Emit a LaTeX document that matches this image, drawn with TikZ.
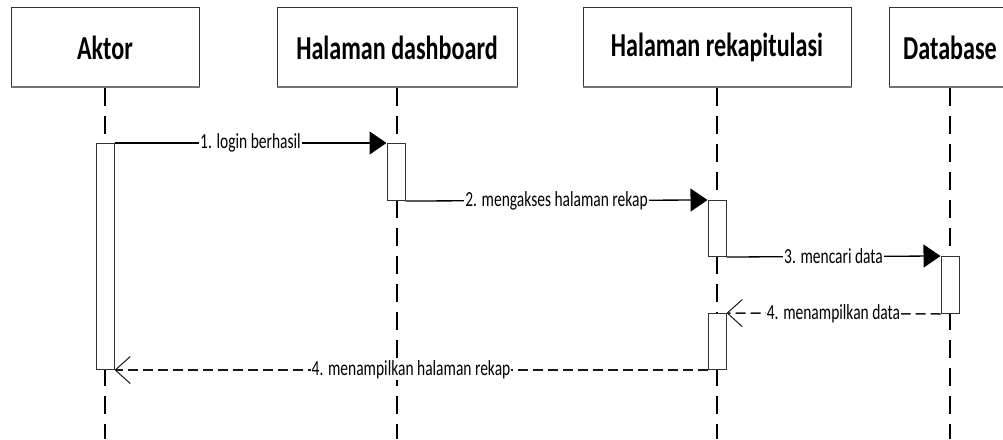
\documentclass[tikz,border=0pt]{standalone}
\usepackage{fontspec}
\setmainfont{Carlito}[FakeStretch=0.72]
\usetikzlibrary{arrows.meta}
\begin{document}
\begin{tikzpicture}[x=1pt,y=-1pt,
  hdrbox/.style={draw=black!80,line width=1pt,fill=white,minimum width=#1,minimum height=80pt,inner sep=0pt,anchor=north,
    font=\fontsize{33.5}{35}\selectfont\bfseries},
  lifeline/.style={draw=black,line width=1.2pt,dash pattern=on 18pt off 10pt},
  actbox/.style={draw=black!80,line width=1pt,fill=white},
  callmsg/.style={draw=black,line width=1.3pt,-{Triangle[length=17pt,width=23pt]}},
  retmsg/.style={draw=black!90,line width=1.5pt,dash pattern=on 10pt off 5pt,-{Straight Barb[length=15pt,width=27pt,line width=1pt]}},
  lbl/.style={fill=white,inner sep=1pt,font=\fontsize{21.5}{23}\selectfont}]
\useasboundingbox (0,0) rectangle (1003,439);
\fill[white] (0,0) rectangle (1003,439);
\begin{scope}
\clip (0,0) rectangle (1003,439);
% header boxes
\node[hdrbox=188pt] (aktor) at (105,7) {Aktor};
\node[hdrbox=240pt] (dash) at (397,7) {Halaman dashboard};
\node[hdrbox=268pt] (rekap) at (717,7) {Halaman rekapitulasi};
\node[hdrbox=122pt] (db) at (950,7) {Database};
% bottom shadow edges
\foreach \n in {aktor,dash,rekap,db}{
  \draw[black!55,line width=2pt] ([yshift=1pt]\n.south west) -- ([yshift=1pt]\n.south east);
}
% lifeline ends
\coordinate (aktorEnd) at (105,439);
\coordinate (dashEnd) at (397,439);
\coordinate (rekapEnd) at (717,439);
\coordinate (dbEnd) at (950,439);
\draw[lifeline] (aktor.south) -- (aktorEnd);
\draw[lifeline] (dash.south) -- (dashEnd);
\draw[lifeline] (rekap.south) -- (rekapEnd);
\draw[lifeline] (db.south) -- (dbEnd);
% activation boxes
\node[actbox,minimum width=18pt,minimum height=226pt,inner sep=0pt,anchor=north] (a1) at (105,143) {};
\node[actbox,minimum width=18pt,minimum height=57pt,inner sep=0pt,anchor=north] (d1) at (396,143) {};
\node[actbox,minimum width=18pt,minimum height=56pt,inner sep=0pt,anchor=north] (r1) at (717,200) {};
\node[actbox,minimum width=18pt,minimum height=57pt,inner sep=0pt,anchor=north] (b1) at (950,256) {};
\node[actbox,minimum width=18pt,minimum height=56pt,inner sep=0pt,anchor=north] (r2) at (717,313) {};
% messages
\draw[callmsg] (a1.north east) -- node[lbl] {1. login berhasil} (d1.north west);
\draw[callmsg] (d1.south east) -- node[lbl] {2. mengakses halaman rekap} (r1.north west);
\draw[callmsg] (r1.south east) -- node[lbl] {3. mencari data} (b1.north west);
\draw[retmsg] (b1.south west) -- node[lbl] {4. menampilkan data} (r2.north east);
\draw[retmsg] (r2.south west) -- node[lbl] {4. menampilkan halaman rekap} (a1.south east);
\end{scope}
\end{tikzpicture}
\end{document}
